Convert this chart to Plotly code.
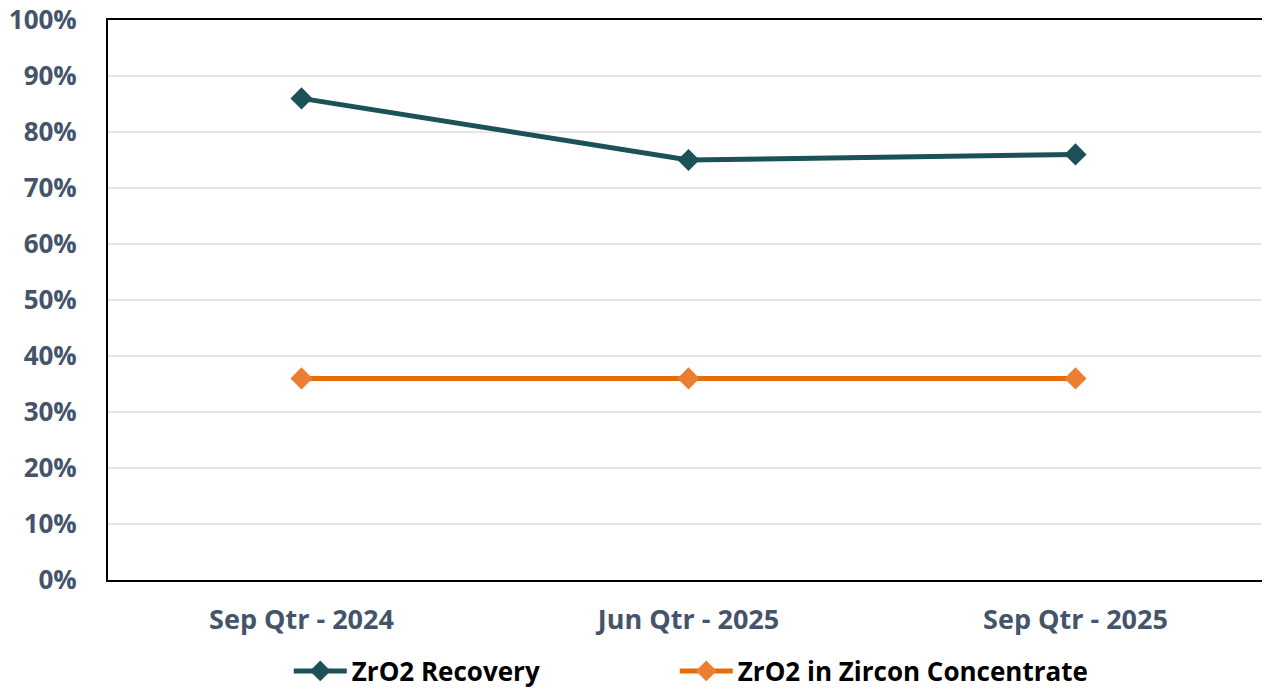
import plotly.graph_objects as go

quarters = ["Sep Qtr - 2024", "Jun Qtr - 2025", "Sep Qtr - 2025"]
zro2_recovery = [0.86, 0.75, 0.76]
zro2_in_concentrate = [0.36, 0.36, 0.36]

fig = go.Figure()
fig.add_trace(go.Scatter(
    x=quarters, y=zro2_recovery, name="ZrO2 Recovery",
    mode="lines+markers",
    line=dict(color="#1B5257", width=5),
    marker=dict(symbol="diamond", size=17, color="#1B5257"),
    legend="legend",
))
fig.add_trace(go.Scatter(
    x=quarters, y=zro2_in_concentrate, name="ZrO2 in Zircon Concentrate",
    mode="lines+markers",
    line=dict(color="#E46C0A", width=5),
    marker=dict(symbol="diamond", size=17, color="#ED7D31"),
    legend="legend2",
))

legend_font = dict(size=26, color="black", family="Open Sans, sans-serif", weight="bold")

fig.update_layout(
    width=1270, height=691,
    template="plotly_white",
    paper_bgcolor="white", plot_bgcolor="white",
    margin=dict(l=100, r=9, t=12, b=119, autoexpand=False),
    font=dict(family="Open Sans, sans-serif", size=22, color="#44546A"),
    legend=dict(
        orientation="h", x=0.1557, xanchor="left", y=-0.1625, yanchor="middle",
        font=legend_font, itemwidth=53,
    ),
    legend2=dict(
        orientation="h", x=0.4882, xanchor="left", y=-0.1625, yanchor="middle",
        font=legend_font, itemwidth=53,
    ),
    showlegend=True,
)
fig.update_xaxes(
    range=[-0.5, 2.5], automargin=False,
    showgrid=False, showline=True, linecolor="black", linewidth=2, mirror=True,
    ticks="", tickfont=dict(size=27, color="#44546A", weight="bold"),
    ticklabelstandoff=15,
)
fig.update_yaxes(
    range=[0, 1], dtick=0.1, tickformat=".0%", automargin=False,
    showgrid=True, gridcolor="#E6E6E6", gridwidth=2,
    showline=True, linecolor="black", linewidth=2, mirror=True,
    zeroline=False, ticks="", ticklabeloverflow="allow",
    tickfont=dict(size=26, color="#44546A", weight="bold"),
    ticklabelstandoff=24,
)

fig.write_html("out.html")
